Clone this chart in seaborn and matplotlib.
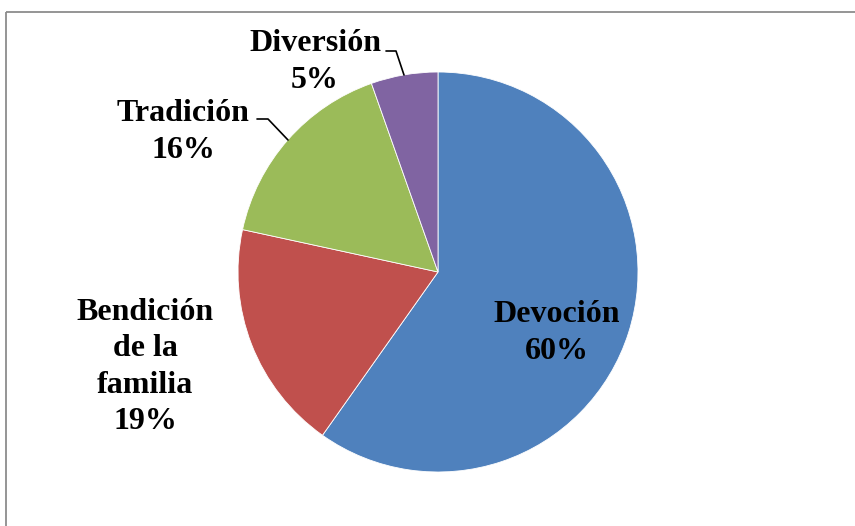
import numpy as np
import matplotlib
matplotlib.use("Agg")
import matplotlib.pyplot as plt
from matplotlib.patches import Rectangle
import seaborn as sns

categorias = ["Devoción", "Bendición\nde la\nfamilia", "Tradición", "Diversión"]
valores = [59.8, 18.6, 16.2, 5.4]
cores = ["#4F81BD", "#C0504D", "#9BBB59", "#8064A2"]

sns.set_theme(style="white")
plt.rcParams['font.family'] = ['Liberation Serif', 'DejaVu Serif']

W, H = 855, 526
fig = plt.figure(figsize=(W / 100, H / 100), dpi=100)
ax = fig.add_axes([0, 0, 1, 1])

#Gera pizza (coordenadas em pixels, y para cima)
cx, cy, r = 438, H - 272, 200
ax.pie(valores, colors=cores, startangle=90, counterclock=False,
       center=(cx, cy), radius=r,
       wedgeprops={'edgecolor': 'white', 'linewidth': 0.6})
ax.set_xlim(0, W)
ax.set_ylim(0, H)
ax.set_aspect('equal')
ax.axis('off')

#Posicoes dos rotulos
total = sum(valores)
pos_rotulos = [(557, 333), (145, 367), (183, 132), (315, 62)]
for nome, v, (x, y) in zip(categorias, valores, pos_rotulos):
    ax.text(x, H - y, '%s\n%.0f%%' % (nome, 100 * v / total), ha='center', va='center',
            fontsize=23, fontweight='bold', color='black', linespacing=1.32)

#Linhas guia
ax.plot([386, 396, 404], [H - 51, H - 51, H - 75], color='black', lw=1.2)
ax.plot([257, 268, 288], [H - 119, H - 119, H - 140], color='black', lw=1.2)

#Borda
fig.patches.append(Rectangle((6 / W, 1 - 12 / H), 1.0, -1.05,
                             transform=fig.transFigure, fill=False,
                             edgecolor='#8c8c8c', lw=1.3))

plt.savefig('out.png', dpi=100)
